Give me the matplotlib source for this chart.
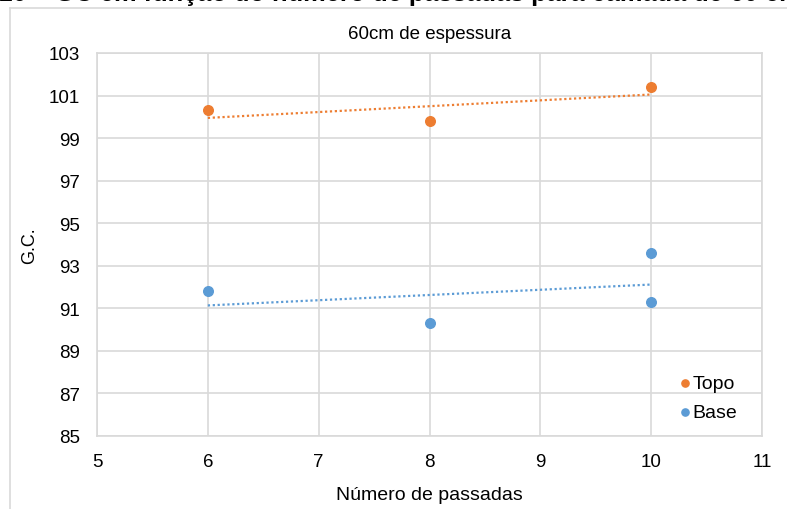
import numpy as np
import matplotlib.pyplot as plt
from matplotlib.lines import Line2D

plt.rcParams['font.family'] = ['Liberation Sans', 'DejaVu Sans']

# data
topo_x = [6, 8, 10]
topo_y = [100.3, 99.8, 101.4]
base_x = [6, 8, 10, 10]
base_y = [91.8, 90.3, 93.6, 91.3]

x_ticks = [5, 6, 7, 8, 9, 10, 11]
y_ticks = [85, 87, 89, 91, 93, 95, 97, 99, 101, 103]

orange = '#ED7D31'
blue = '#5B9BD5'
grid_c = '#d9d9d9'

W, H = 787, 510
fig = plt.figure(figsize=(W / 100, H / 100), dpi=100)
ax = fig.add_axes([97 / W, 1 - 437 / H, (762 - 97) / W, (437 - 54) / H])

# linear trend lines (Excel style)
for xs, ys, c in [(topo_x, topo_y, orange), (base_x, base_y, blue)]:
    k, b = np.polyfit(xs, ys, 1)
    xl = np.array([min(xs), max(xs)])
    ax.plot(xl, k * xl + b, color=c, lw=1.6, ls=(0, (1, 1.2)), zorder=2)

ax.scatter(topo_x, topo_y, s=48, color=orange, label='Topo', zorder=3)
ax.scatter(base_x, base_y, s=48, color=blue, label='Base', zorder=3)

ax.set_xlim(5, 11)
ax.set_ylim(85, 103)
ax.set_xticks(x_ticks)
ax.set_yticks(y_ticks)
ax.grid(True, color=grid_c, lw=1.2)
ax.set_axisbelow(True)
for s in ax.spines.values():
    s.set_color(grid_c)
    s.set_linewidth(1.2)
ax.tick_params(length=0, labelsize=13.5, colors='black')
ax.tick_params(axis='x', pad=12)
ax.tick_params(axis='y', pad=12)

ax.set_title('60cm de espessura', fontsize=13.5, pad=11)
ax.set_xlabel('Número de passadas', fontsize=14, labelpad=12)
ax.set_ylabel('G.C.', fontsize=13, labelpad=8)

leg = ax.legend(loc='center left', frameon=False, fontsize=14,
                handletextpad=0.0, labelspacing=0.55, markerscale=0.75,
                handlelength=0.8, borderpad=0, borderaxespad=0,
                bbox_to_anchor=(0.872, 0.10))

# chart container border
fig.add_artist(Line2D([10 / W, 10 / W], [0, 1 - 9 / H], color=grid_c, lw=1.2))
fig.add_artist(Line2D([10 / W, 1], [1 - 9 / H, 1 - 9 / H], color=grid_c, lw=1.2))

# caption of the page, cut off at the top
fig.text(-86 / W, 1 - 1 / H, 'Figura 10 – GC em função do número de passadas para camada de 60 cm',
         fontsize=18.3, fontweight='bold', ha='left', va='baseline')

fig.savefig('out.png', dpi=100)
